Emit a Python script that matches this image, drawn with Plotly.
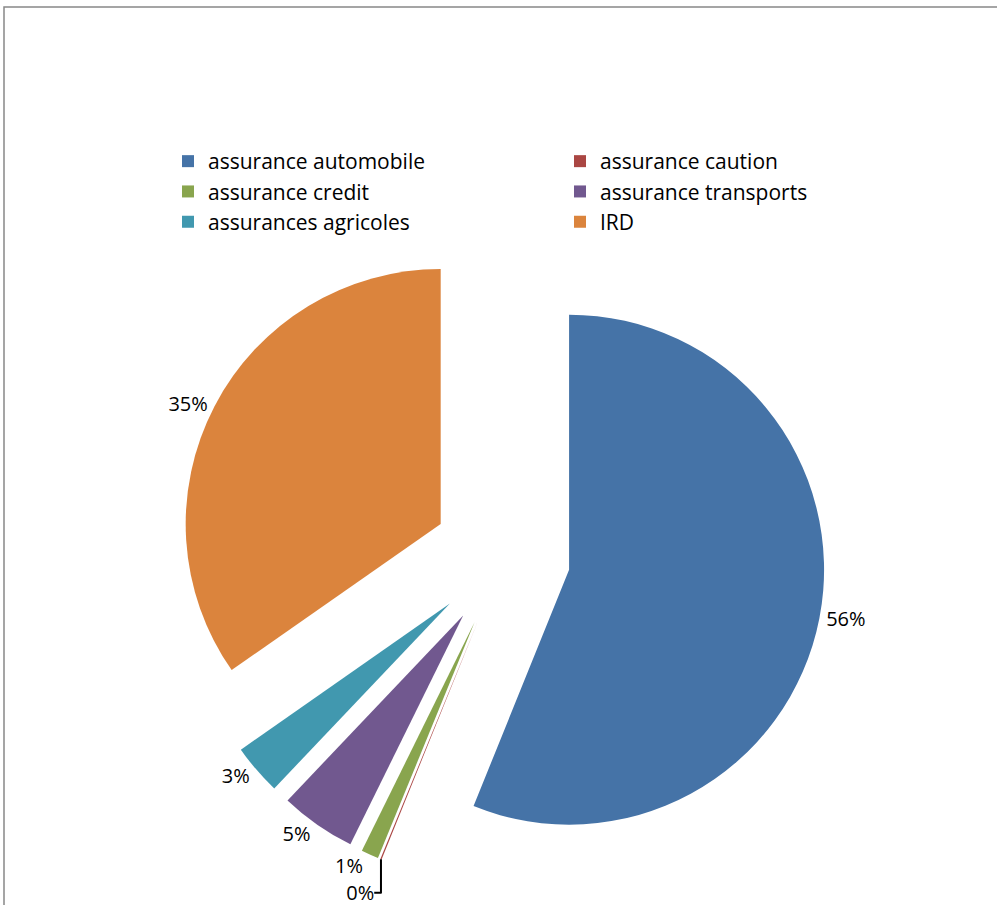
import plotly.graph_objects as go

categories = ["assurance automobile", "assurance caution", "assurance credit",
              "assurance transports", "assurances agricoles", "IRD"]
values = [56.1, 0.08, 1.1, 4.8, 3.2, 34.7]
colors = ["#4573A7", "#AA4643", "#89A54E", "#71588F", "#4198AF", "#DB843D"]
pulls = [0.26, 0.28, 0.28, 0.28, 0.28, 0.28]

W, H = 997, 905
cx, cy, r = 504, 557, 255
half = r * (1 + max(pulls))

fig = go.Figure(go.Pie(
    labels=categories,
    values=values,
    marker=dict(colors=colors, line=dict(width=0)),
    pull=pulls,
    sort=False,
    direction="clockwise",
    rotation=0,
    textposition="outside",
    texttemplate="%{percent:.0%}",
    textfont=dict(family="Open Sans", size=20, color="#000000"),
    domain=dict(x=[(cx - half) / W, (cx + half) / W],
                y=[1 - (cy + half) / H, 1 - (cy - half) / H]),
    showlegend=True,
))

fig.update_layout(
    width=W, height=H,
    margin=dict(l=0, r=0, t=0, b=0, autoexpand=False),
    paper_bgcolor="white",
    plot_bgcolor="white",
    font=dict(family="Open Sans", color="#000000"),
    legend=dict(
        orientation="h",
        x=168 / W, xanchor="left",
        y=1 - 141 / H, yanchor="top",
        bgcolor="rgba(0,0,0,0)",
        font=dict(family="Open Sans", size=21, color="#000000"),
        entrywidth=347, entrywidthmode="pixels",
        itemwidth=30,
        tracegroupgap=0,
        traceorder="normal",
    ),
    shapes=[dict(type="rect", xref="paper", yref="paper",
                 x0=4 / W, x1=1.05, y0=-0.05, y1=1 - 7 / H,
                 line=dict(color="#888888", width=1.5), fillcolor="rgba(0,0,0,0)")],
)

fig.write_html("out.html", config={"displayModeBar": False},
               post_script="document.body.style.margin='0';")
